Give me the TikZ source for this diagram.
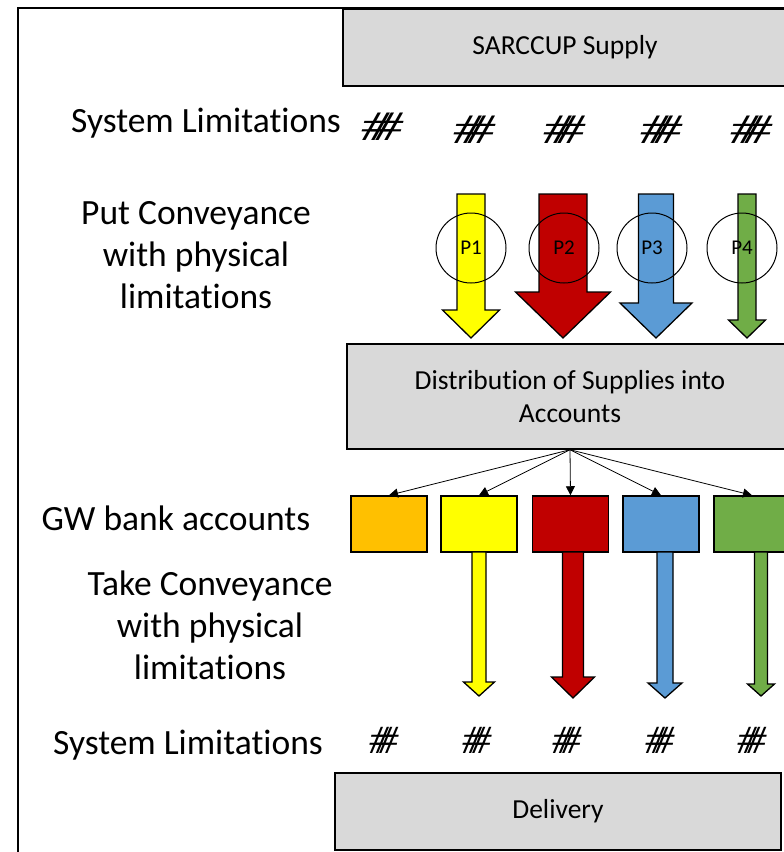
\documentclass[tikz,border=0pt]{standalone}
\usepackage{fontspec}
\setmainfont[Ligatures=NoCommon]{Carlito}
\newfontfamily\hashfont{Liberation Serif}
\usetikzlibrary{arrows.meta}

\definecolor{boxgray}{HTML}{D9D9D9}
\definecolor{accorange}{HTML}{FFC000}
\definecolor{accyellow}{HTML}{FFFF00}
\definecolor{accred}{HTML}{C00000}
\definecolor{accblue}{HTML}{5B9BD5}
\definecolor{accgreen}{HTML}{70AD47}

% block arrow: x, top, tip, half shaft, half head, head start, colour
\newcommand{\blockarrow}[7]{%
  \filldraw[fill=#7, draw=black, line width=1.3pt, line join=miter]
    (#1-#4,#2) -- (#1+#4,#2) -- (#1+#4,#6) -- (#1+#5,#6) -- (#1,#3)
    -- (#1-#5,#6) -- (#1-#4,#6) -- cycle;}

\tikzset{
  graybox/.style={draw=black, line width=1.5pt, fill=boxgray, inner sep=0pt,
    align=center, font=\fontsize{27.5}{33}\selectfont},
  label/.style={align=center, inner sep=0pt, font=\fontsize{35.5}{42}\selectfont},
  acc/.style={draw=black, line width=1.5pt, minimum width=76pt, minimum height=56pt, inner sep=0pt},
  pcircle/.style={draw=black, line width=1pt, circle, minimum size=70pt, inner sep=0pt,
    font=\fontsize{21}{24}\selectfont},
  hashtop/.style={inner sep=0pt, font=\fontsize{42}{42}\selectfont\hashfont\itshape},
  hashbot/.style={inner sep=0pt, font=\fontsize{40}{40}\selectfont\hashfont\itshape}
}
\newcommand{\hh}{\scalebox{1.55}[1]{\#\kern-.36em\#}}
\newcommand{\hb}{\scalebox{1.15}[1]{\#\kern-.36em\#}}

\begin{document}
\begin{tikzpicture}[x=1pt, y=-1pt]
  \useasboundingbox (0,0) rectangle (784,852);

  % frame
  \draw[line width=2pt] (18,860) -- (18,8) -- (800,8);

  % supply and system limitations
  \node[graybox, minimum width=444pt, minimum height=77pt] (supply) at (565,47.5) {SARCCUP Supply};
  \node[label] (limtop) at (206,123) {System Limitations};
  \foreach \x/\y [count=\i] in {382/127, 474/130, 564/130, 661/130, 751/130}
    \node[hashtop] (htop\i) at (\x,\y) {\hh};

  % put conveyance
  \node[label] (put) at (196,255) {Put Conveyance\\with physical\\limitations};
  \blockarrow{471}{194}{338}{14}{28.5}{310}{accyellow}
  \blockarrow{563}{194}{338}{24}{47.5}{292}{accred}
  \blockarrow{656}{194}{338}{17.5}{36}{303}{accblue}
  \blockarrow{747}{194}{338}{9}{18.5}{320}{accgreen}
  \foreach \x [count=\i] in {471, 564, 652, 742}
    \node[pcircle] (p\i) at (\x,248) {P\i};

  % distribution
  \node[graybox, minimum width=446pt, minimum height=105pt] (dist) at (570,396.5)
    {Distribution of Supplies into\\Accounts};

  % accounts
  \node[label] (gw) at (176,518) {GW bank accounts};
  \node[acc, fill=accorange] (acc1) at (389,524) {};
  \node[acc, fill=accyellow] (acc2) at (479,524) {};
  \node[acc, fill=accred] (acc3) at (570.5,524) {};
  \node[acc, fill=accblue] (acc4) at (661,524) {};
  \node[acc, fill=accgreen] (acc5) at (752,524) {};
  \foreach \i in {1,...,5}
    \draw[line width=.8pt, -{Triangle[length=9pt, width=9pt]}] (dist.south) -- (acc\i.north);

  % take conveyance
  \node[label] (take) at (210,625) {Take Conveyance\\with physical\\limitations};
  \blockarrow{479}{552}{696}{7}{15.5}{682}{accyellow}
  \blockarrow{573}{552}{698}{10.5}{21.5}{677}{accred}
  \blockarrow{665}{552}{698}{8}{17}{683}{accblue}
  \blockarrow{761}{552}{696}{6.5}{13.5}{684}{accgreen}

  % delivery
  \node[label] (limbot) at (188,745) {System Limitations};
  \foreach \x [count=\i] in {384, 477, 567, 660, 752}
    \node[hashbot] (hbot\i) at (\x,740) {\hb};
  \node[graybox, minimum width=446pt, minimum height=77pt] (deliv) at (558,811.5) {Delivery};
\end{tikzpicture}
\end{document}
